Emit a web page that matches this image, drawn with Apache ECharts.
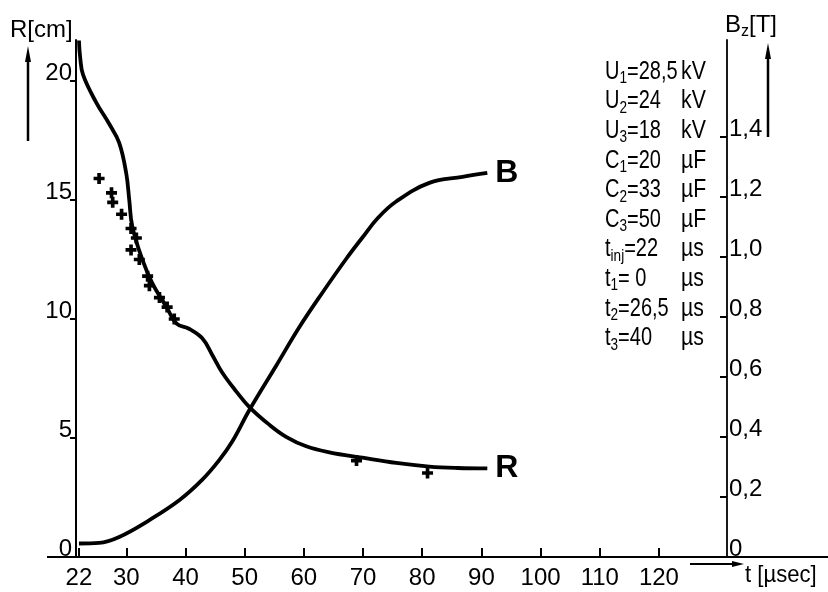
<!DOCTYPE html>
<html>
<head>
<meta charset="utf-8">
<script src="https://cdn.jsdelivr.net/npm/echarts@6/dist/echarts.min.js"></script>
<style>
html,body{margin:0;padding:0;background:#fff;}
#chart{width:828px;height:592px;}
</style>
</head>
<body>
<div id="chart"></div>
<script>
// ---- data ----
const xTicks = [22, 30, 40, 50, 60, 70, 80, 90, 100, 110, 120];
const rTicks = [0, 5, 10, 15, 20];
const bTicks = [0, 0.2, 0.4, 0.6, 0.8, 1.0, 1.2, 1.4];

const tR = [22.0, 22.2, 22.7, 24.9, 27.1, 28.8, 30.0, 30.5, 31.0, 32.7, 34.4, 36.8, 38.5, 40.5, 42.8, 44.5, 46.2, 48.6, 50.8, 54.2, 57.0, 60.4, 64.3, 69.9, 75.6, 81.2, 86.0, 91.0];
const R  = [21.7, 21.0, 20.25, 19.1, 18.2, 17.4, 16.1, 15.0, 13.9, 12.5, 11.5, 10.5, 9.8, 9.6, 9.2, 8.5, 7.75, 6.95, 6.3, 5.55, 5.05, 4.65, 4.4, 4.17, 3.95, 3.8, 3.74, 3.72];

const tB = [22, 25.4, 28.8, 33.9, 39.0, 42.8, 45.7, 47.9, 50.8, 55.4, 59.2, 63.1, 67.2, 69.9, 72.5, 75.6, 81.2, 86.8, 91];
const B  = [0.045, 0.047, 0.067, 0.123, 0.19, 0.257, 0.323, 0.385, 0.49, 0.64, 0.765, 0.88, 0.995, 1.065, 1.13, 1.185, 1.247, 1.267, 1.28];

const tMeas = [25.4, 27.5, 27.7, 29.2, 30.8, 31.7, 30.8, 32.2, 33.6, 33.9, 35.6, 36.9, 38.1, 68.9, 80.9];
const rMeas = [15.9, 15.3, 14.9, 14.4, 13.8, 13.4, 12.9, 12.5, 11.8, 11.4, 10.9, 10.5, 10.0, 4.05, 3.53];

const paramSym  = ['U', 'U', 'U', 'C', 'C', 'C', 't', 't', 't', 't'];
const paramSub  = ['1', '2', '3', '1', '2', '3', 'inj', '1', '2', '3'];
const paramVal  = ['=28,5', '=24', '=18', '=20', '=33', '=50', '=22', '= 0', '=26,5', '=40'];
const paramUnit = ['kV', 'kV', 'kV', 'µF', 'µF', 'µF', 'µs', 'µs', 'µs', 'µs'];

// ---- chart ----
const FONT = '"Liberation Sans Narrow", "Liberation Sans", sans-serif';
const chart = echarts.init(document.getElementById('chart'), null, {renderer: 'canvas'});

const zip = (a, b) => a.map((v, i) => [v, b[i]]);
const plus = 'path://M4,0H8V4H12V8H8V12H4V8H0V4H4Z';

const graphics = [];
// bottom axis extended line
graphics.push({type: 'line', shape: {x1: 47, y1: 557, x2: 828, y2: 557}, style: {stroke: '#000', lineWidth: 2}, z: 1});
// R axis name + arrow
graphics.push({type: 'text', x: 10, y: 30, style: {text: 'R[cm]', font: '24px ' + FONT, fill: '#000', verticalAlign: 'middle'}});
graphics.push({type: 'line', shape: {x1: 28, y1: 141, x2: 28, y2: 58}, style: {stroke: '#000', lineWidth: 2.5}});
graphics.push({type: 'polygon', shape: {points: [[28, 46], [25, 62], [31, 62]]}, style: {fill: '#000'}});
// Bz axis name + arrow
graphics.push({type: 'text', x: 725, y: 25, style: {
  text: '{m|B}{s|z}{m|[T]}', fill: '#000', verticalAlign: 'middle',
  rich: {m: {font: '24px ' + FONT, lineHeight: 30, verticalAlign: 'middle'}, s: {font: '16px ' + FONT, lineHeight: 14, verticalAlign: 'bottom'}}
}});
graphics.push({type: 'line', shape: {x1: 768, y1: 137, x2: 768, y2: 55}, style: {stroke: '#000', lineWidth: 2.5}});
graphics.push({type: 'polygon', shape: {points: [[768, 43], [765, 59], [771, 59]]}, style: {fill: '#000'}});
// t axis arrow + name
graphics.push({type: 'line', shape: {x1: 690, y1: 564, x2: 735, y2: 564}, style: {stroke: '#000', lineWidth: 2}});
graphics.push({type: 'polygon', shape: {points: [[744, 564], [732, 561], [732, 567]]}, style: {fill: '#000'}});
graphics.push({type: 'text', x: 745, y: 575, scaleX: 0.92, style: {text: 't [µsec]', font: '24px ' + FONT, fill: '#000', verticalAlign: 'middle'}});
// parameter block
paramSym.forEach((s, i) => {
  const y = 72 + i * 29.6;
  graphics.push({type: 'text', x: 605, y: y, scaleX: 0.8, style: {
    text: '{m|' + s + '}{s|' + paramSub[i] + '}{m|' + paramVal[i] + '}', fill: '#000', verticalAlign: 'middle',
    rich: {m: {font: '25px ' + FONT, lineHeight: 30, verticalAlign: 'middle'}, s: {font: '17px ' + FONT, lineHeight: 14, verticalAlign: 'bottom'}}
  }});
  graphics.push({type: 'text', x: 681, y: y, scaleX: 0.85, style: {text: paramUnit[i], font: '25px ' + FONT, fill: '#000', verticalAlign: 'middle'}});
});

const option = {
  animation: false,
  backgroundColor: '#fff',
  grid: {left: 76, right: 101, top: 40, bottom: 35, containLabel: false},
  xAxis: {
    type: 'value', min: 21.5, max: 131.5,
    axisLine: {show: true, lineStyle: {color: '#000', width: 2}},
    axisTick: {show: true, inside: true, length: 9, lineStyle: {color: '#000', width: 2}, customValues: xTicks},
    axisLabel: {show: true, customValues: xTicks, color: '#000', fontFamily: FONT, fontSize: 24, margin: 9},
    splitLine: {show: false}
  },
  yAxis: [
    {
      type: 'value', min: 0, max: 21.72, position: 'left',
      axisLine: {show: true, lineStyle: {color: '#000', width: 2}},
      axisTick: {show: true, length: 6, lineStyle: {color: '#000', width: 2}, customValues: rTicks},
      axisLabel: {show: true, customValues: rTicks, color: '#000', fontFamily: FONT, fontSize: 24, margin: 4, verticalAlign: 'bottom', lineHeight: 16},
      splitLine: {show: false}
    },
    {
      type: 'value', min: 0, max: 1.7233, position: 'right',
      axisLine: {show: true, lineStyle: {color: '#000', width: 1.8}},
      axisTick: {show: true, inside: true, length: 7, lineStyle: {color: '#000', width: 2}, customValues: bTicks},
      axisLabel: {show: true, customValues: bTicks, color: '#000', fontFamily: FONT, fontSize: 24, margin: 2, verticalAlign: 'bottom', lineHeight: 16,
        formatter: v => (v === 0 ? '0' : v.toFixed(1).replace('.', ','))},
      splitLine: {show: false}
    }
  ],
  series: [
    {
      name: 'R', type: 'line', yAxisIndex: 0, data: zip(tR, R), smooth: 0.4,
      showSymbol: false, lineStyle: {color: '#000', width: 3.8},
      endLabel: {show: true, formatter: 'R', color: '#000', fontFamily: FONT, fontWeight: 'bold', fontSize: 32, distance: 8}
    },
    {
      name: 'B', type: 'line', yAxisIndex: 1, data: zip(tB, B), smooth: 0.4,
      showSymbol: false, lineStyle: {color: '#000', width: 3.8},
      endLabel: {show: true, formatter: 'B', color: '#000', fontFamily: FONT, fontWeight: 'bold', fontSize: 32, distance: 8}
    },
    {
      name: 'meas', type: 'scatter', yAxisIndex: 0, data: zip(tMeas, rMeas),
      symbol: plus, symbolSize: 11, itemStyle: {color: '#000', opacity: 1}
    }
  ],
  graphic: graphics
};
chart.setOption(option);
</script>
</body>
</html>
